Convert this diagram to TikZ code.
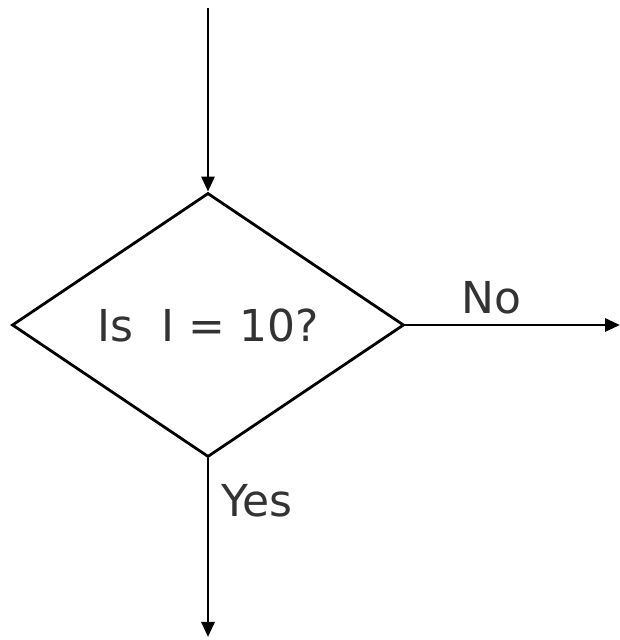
\documentclass[tikz,border=0pt]{standalone}
\usepackage{fontspec}
\setmainfont{DejaVu Sans}
\usetikzlibrary{shapes.geometric,arrows.meta}
\definecolor{txtgray}{HTML}{333333}
\begin{document}
\begin{tikzpicture}[x=1pt, y=1pt, >={Triangle[length=15pt,width=13pt]},
    flow/.style={->, line width=2.8pt},
    lbl/.style={text=txtgray, font=\fontsize{44}{52}\selectfont, inner sep=0pt}]
    \useasboundingbox (0,0) rectangle (620,640);

    \node[diamond, draw, line width=2.8pt, minimum width=392pt, minimum height=264pt,
          inner sep=0pt, lbl] (check) at (208,315) {Is\ \ I = 10?};

    \coordinate (start) at (208,632);
    \coordinate (noEnd) at (620,315);
    \coordinate (yesEnd) at (208,3);

    \draw[flow] (start) -- (check.north);
    \draw[flow] (check.east) -- (noEnd) node[lbl, pos=0.4, above=9pt] (noLbl) {No};
    \draw[flow] (check.south) -- (yesEnd) node[lbl, pos=0.24, right=12pt] (yesLbl) {Yes};
\end{tikzpicture}
\end{document}
